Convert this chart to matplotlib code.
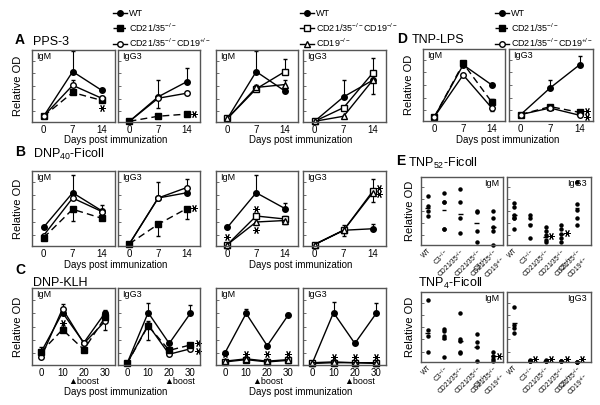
import numpy as np
import matplotlib
matplotlib.use('Agg')
import matplotlib.pyplot as plt
from matplotlib.lines import Line2D

plt.rcParams['font.family'] = ['Liberation Sans', 'DejaVu Sans']
plt.rcParams['mathtext.fontset'] = 'custom'
plt.rcParams['mathtext.rm'] = 'Liberation Sans'
plt.rcParams['mathtext.it'] = 'Liberation Sans:italic'
plt.rcParams['mathtext.default'] = 'regular'

# ---- data (relative OD, fraction of panel height) ----
days_short = [0, 7, 14]
days_long = [0, 10, 20, 30]

# A: PPS-3   (values, error: + upper bar, - lower bar)
pps3_igm_wt, pps3_igm_wt_err = [0.08, 0.70, 0.44], [0, 0.28, 0.02]
pps3_igm_ko, pps3_igm_ko_err = [0.08, 0.41, 0.30], [0, 0.03, 0.04]
pps3_igm_het, pps3_igm_het_err = [0.08, 0.51, 0.33], [0, 0.08, 0.03]
pps3_igg3_wt, pps3_igg3_wt_err = [0.01, 0.35, 0.56], [0, 0.24, 0.19]
pps3_igg3_het, pps3_igg3_het_err = [0.01, 0.33, 0.40], [0, -0.13, 0]
pps3_igg3_ko, pps3_igg3_ko_err = [0.01, 0.08, 0.11], [0, 0.01, 0.03]
pps3_igm2_wt, pps3_igm2_wt_err = [0.05, 0.70, 0.43], [0, 0.28, 0]
pps3_igm2_dko, pps3_igm2_dko_err = [0.05, 0.46, 0.70], [0, 0.05, 0.17]
pps3_igm2_cd19, pps3_igm2_cd19_err = [0.05, 0.48, 0.52], [0, 0.04, 0.07]
pps3_igg32_wt, pps3_igg32_wt_err = [0.01, 0.35, 0.58], [0, 0.24, 0]
pps3_igg32_dko, pps3_igg32_dko_err = [0.01, 0.20, 0.68], [0, 0, 0.21]
pps3_igg32_cd19, pps3_igg32_cd19_err = [0.01, 0.08, 0.58], [0, 0, -0.19]

# B: DNP40-Ficoll
dnp40_igm_wt, dnp40_igm_wt_err = [0.25, 0.71, 0.47], [0, 0.24, 0.08]
dnp40_igm_het, dnp40_igm_het_err = [0.14, 0.64, 0.46], [0, 0, 0]
dnp40_igm_ko, dnp40_igm_ko_err = [0.11, 0.49, 0.37], [0, -0.15, 0.02]
dnp40_igg3_wt, dnp40_igg3_wt_err = [0.03, 0.64, 0.71], [0, 0, 0]
dnp40_igg3_het, dnp40_igg3_het_err = [0.03, 0.64, 0.78], [0, 0.22, 0.12]
dnp40_igg3_ko, dnp40_igg3_ko_err = [0.03, 0.29, 0.50], [0, -0.15, -0.14]
dnp40_igm2_wt, dnp40_igm2_wt_err = [0.25, 0.71, 0.50], [0, 0.24, 0.08]
dnp40_igm2_dko, dnp40_igm2_dko_err = [0.02, 0.40, 0.36], [0, 0, 0.04]
dnp40_igm2_cd19, dnp40_igm2_cd19_err = [0.02, 0.32, 0.34], [0, 0, -0.04]
dnp40_igg32_wt, dnp40_igg32_wt_err = [0.02, 0.21, 0.23], [0, 0, 0.07]
dnp40_igg32_dko, dnp40_igg32_dko_err = [0.02, 0.21, 0.73], [0, 0.07, 0.17]
dnp40_igg32_cd19, dnp40_igg32_cd19_err = [0.02, 0.21, 0.71], [0, -0.08, -0.12]

# C: DNP-KLH
klh_igm_wt, klh_igm_wt_err = [0.17, 0.68, 0.29, 0.68], [0.06, 0, 0, 0.03]
klh_igm_het, klh_igm_het_err = [0.10, 0.73, 0.28, 0.57], [0, 0.06, 0, -0.12]
klh_igm_ko, klh_igm_ko_err = [0.17, 0.46, 0.20, 0.62], [0, 0.08, 0, 0]
klh_igg3_wt, klh_igg3_wt_err = [0.02, 0.68, 0.28, 0.67], [0, 0.13, 0, 0.11]
klh_igg3_het, klh_igg3_het_err = [0.02, 0.52, 0.14, 0.21], [0, 0.05, 0, 0.08]
klh_igg3_ko, klh_igg3_ko_err = [0.02, 0.51, 0.19, 0.26], [0, -0.18, 0, 0]
klh_igm2_wt, klh_igm2_wt_err = [0.16, 0.67, 0.25, 0.65], [0, 0.06, 0, 0.03]
klh_igm2_dko, klh_igm2_dko_err = [0.04, 0.07, 0.04, 0.06], [0, 0, 0, 0]
klh_igm2_cd19, klh_igm2_cd19_err = [0.05, 0.08, 0.05, 0.07], [0, 0, 0, 0]
klh_igg32_wt, klh_igg32_wt_err = [0.02, 0.68, 0.28, 0.67], [0, 0.14, 0, 0.13]
klh_igg32_dko, klh_igg32_dko_err = [0.02, 0.03, 0.03, 0.02], [0, 0, 0, 0]
klh_igg32_cd19, klh_igg32_cd19_err = [0.03, 0.04, 0.03, 0.03], [0, 0, 0, 0]

# D: TNP-LPS
lps_igm_wt, lps_igm_wt_err = [0.06, 0.78, 0.50], [0, 0, 0]
lps_igm_ko, lps_igm_ko_err = [0.06, 0.80, 0.26], [0, 0, 0.04]
lps_igm_het, lps_igm_het_err = [0.06, 0.64, 0.18], [0, 0, -0.04]
lps_igg3_wt, lps_igg3_wt_err = [0.09, 0.46, 0.78], [0, 0.11, 0.12]
lps_igg3_ko, lps_igg3_ko_err = [0.09, 0.20, 0.12], [0, 0, 0]
lps_igg3_het, lps_igg3_het_err = [0.09, 0.18, 0.08], [0, 0, 0]

# E: individual mice
e_cats = ['WT', 'C3$^{-/-}$', 'CD21/35$^{-/-}$', 'CD21/35$^{-/-}$\nC3$^{-/-}$',
          'CD21/35$^{-/-}$\nCD19$^{+/-}$']
tnp52_igm = [[0.72, 0.58, 0.50, 0.42], [0.76, 0.63, 0.63, 0.24, 0.24],
             [0.82, 0.63, 0.39, 0.18], [0.50, 0.49, 0.20, 0.05],
             [0.50, 0.40, 0.27, 0.20, 0.0]]
tnp52_igm_mean = [0.55, 0.51, 0.45, 0.33, 0.27]
tnp52_igg3 = [[0.62, 0.56, 0.44, 0.40, 0.39, 0.24], [0.44, 0.40, 0.29, 0.10],
              [0.27, 0.20, 0.15, 0.07, 0.05], [0.29, 0.23, 0.16, 0.10, 0.05],
              [0.93, 0.61, 0.52, 0.40, 0.29]]
tnp52_igg3_mean = [0.44, 0.31, 0.12, 0.16, 0.54]
tnp4_igm = [[0.89, 0.46, 0.37, 0.15], [0.47, 0.44, 0.37, 0.34, 0.07],
            [0.70, 0.33, 0.30, 0.14, 0.13], [0.40, 0.29, 0.21, 0.01],
            [0.14, 0.08, 0.05, 0.02]]
tnp4_igm_mean = [0.42, 0.33, 0.30, 0.21, 0.08]
tnp4_igg3 = [[0.79, 0.53, 0.48, 0.41], [0.03, 0.02, 0.01, 0.01],
             [0.03, 0.02, 0.01, 0.01], [0.02, 0.01, 0.01],
             [0.005, 0.005, 0.005]]
tnp4_igg3_mean = [0.56, 0.015, 0.015, 0.01, 0.005]

LABELS = {
    'wt': 'WT',
    'ko': 'CD21/35$^{-/-}$',
    'het': 'CD21/35$^{-/-}$CD19$^{+/-}$',
    'dko': 'CD21/35$^{-/-}$CD19$^{-/-}$',
    'cd19': 'CD19$^{-/-}$',
}
STYLE = {
    'wt': dict(marker='o', mfc='black', ls='-'),
    'ko': dict(marker='s', mfc='black', ls='--'),
    'het': dict(marker='o', mfc='white', ls='-'),
    'dko': dict(marker='s', mfc='white', ls='-'),
    'cd19': dict(marker='^', mfc='white', ls='-'),
}

W, H = 600, 405
fig = plt.figure(figsize=(6, 4.05), dpi=100)
SPINE = '#555555'


def box(x0, y0, x1, y1):
    return fig.add_axes([x0 / W, 1 - y1 / H, (x1 - x0) / W, (y1 - y0) / H])


def style_axes(ax):
    for s in ax.spines.values():
        s.set_color(SPINE)
        s.set_linewidth(1.0)
    ax.set_ylim(0, 1)
    ax.set_yticks(np.linspace(0.15, 0.85, 5))
    ax.set_yticklabels([])
    ax.tick_params(axis='y', direction='in', length=2.5, width=0.6, color=SPINE)
    ax.tick_params(axis='x', length=0, labelsize=7, pad=2)


def star(ax, x, y):
    ax.plot(x, y, marker=(6, 2, 90), ms=5, mew=0.7, color='black',
            ls='none', clip_on=False)


def line_panel(rect, days, series, label, xlim, ylabel=False):
    ax = box(*rect)
    for key, vals, err in series:
        st = STYLE[key]
        lo = [max(-e, 0) for e in err]
        hi = [max(e, 0) for e in err]
        ax.errorbar(days, vals, yerr=[lo, hi], color='black', lw=1,
                    ls=st['ls'], marker=st['marker'], mfc=st['mfc'],
                    mec='black', ms=4, capsize=1.5, elinewidth=0.8,
                    clip_on=False)
    for ln in ax.get_lines():
        if ln.get_linestyle() == '--':
            ln.set_dashes((5, 3))
    ax.set_xlim(*xlim)
    ax.set_xticks(days)
    style_axes(ax)
    ax.text(0.05, 0.97, label, transform=ax.transAxes, va='top', fontsize=6.5)
    if ylabel:
        ax.set_ylabel('Relative OD', fontsize=8, labelpad=3)
    return ax


def dot_panel(rect, groups, means, label, xlim, ylabel=False):
    ax = box(*rect)
    for i, vals in enumerate(groups):
        ax.plot([i] * len(vals), vals, 'o', ms=2.2, color='black', clip_on=False)
    xs = np.arange(len(means))
    ax.hlines(means, xs - 0.15, xs + 0.15, color='black', lw=1)
    ax.set_xlim(*xlim)
    style_axes(ax)
    ax.set_xticks(xs)
    ax.set_xticklabels(e_cats, rotation=45, ha='right', rotation_mode='anchor',
                       fontsize=4.8, linespacing=0.85)
    ax.tick_params(axis='x', pad=1.5)
    ax.text(0.95, 0.97, label, transform=ax.transAxes, va='top', ha='right',
            fontsize=6.5)
    if ylabel:
        ax.set_ylabel('Relative OD', fontsize=8, labelpad=1)
    return ax


XS = (-2.8, 17.2)
XL = (-4.3, 34.6)
cols = [(32, 115), (118, 200), (216, 298), (303, 386)]

# ---- row A ----
ya = (50, 122)
ax = line_panel((cols[0][0], ya[0], cols[0][1], ya[1]), days_short,
                [('wt', pps3_igm_wt, pps3_igm_wt_err),
                 ('ko', pps3_igm_ko, pps3_igm_ko_err),
                 ('het', pps3_igm_het, pps3_igm_het_err)], 'IgM', XS, True)
star(ax, 14, 0.19)
ax = line_panel((cols[1][0], ya[0], cols[1][1], ya[1]), days_short,
                [('wt', pps3_igg3_wt, pps3_igg3_wt_err),
                 ('het', pps3_igg3_het, pps3_igg3_het_err),
                 ('ko', pps3_igg3_ko, pps3_igg3_ko_err)], 'IgG3', XS)
star(ax, 15.7, 0.11)
line_panel((cols[2][0], ya[0], cols[2][1], ya[1]), days_short,
           [('wt', pps3_igm2_wt, pps3_igm2_wt_err),
            ('dko', pps3_igm2_dko, pps3_igm2_dko_err),
            ('cd19', pps3_igm2_cd19, pps3_igm2_cd19_err)], 'IgM', XS)
line_panel((cols[3][0], ya[0], cols[3][1], ya[1]), days_short,
           [('wt', pps3_igg32_wt, pps3_igg32_wt_err),
            ('dko', pps3_igg32_dko, pps3_igg32_dko_err),
            ('cd19', pps3_igg32_cd19, pps3_igg32_cd19_err)], 'IgG3', XS)

# ---- row B ----
yb = (171, 246)
line_panel((cols[0][0], yb[0], cols[0][1], yb[1]), days_short,
           [('wt', dnp40_igm_wt, dnp40_igm_wt_err),
            ('het', dnp40_igm_het, dnp40_igm_het_err),
            ('ko', dnp40_igm_ko, dnp40_igm_ko_err)], 'IgM', XS, True)
ax = line_panel((cols[1][0], yb[0], cols[1][1], yb[1]), days_short,
                [('wt', dnp40_igg3_wt, dnp40_igg3_wt_err),
                 ('het', dnp40_igg3_het, dnp40_igg3_het_err),
                 ('ko', dnp40_igg3_ko, dnp40_igg3_ko_err)], 'IgG3', XS)
star(ax, 15.7, 0.51)
ax = line_panel((cols[2][0], yb[0], cols[2][1], yb[1]), days_short,
                [('wt', dnp40_igm2_wt, dnp40_igm2_wt_err),
                 ('dko', dnp40_igm2_dko, dnp40_igm2_dko_err),
                 ('cd19', dnp40_igm2_cd19, dnp40_igm2_cd19_err)], 'IgM', XS)
star(ax, 0, 0.12)
star(ax, 7, 0.49)
star(ax, 7, 0.22)
ax = line_panel((cols[3][0], yb[0], cols[3][1], yb[1]), days_short,
                [('wt', dnp40_igg32_wt, dnp40_igg32_wt_err),
                 ('dko', dnp40_igg32_dko, dnp40_igg32_dko_err),
                 ('cd19', dnp40_igg32_cd19, dnp40_igg32_cd19_err)], 'IgG3', XS)
star(ax, 15.6, 0.78)
star(ax, 15.6, 0.70)

# ---- row C ----
yc = (288, 365)
ax = line_panel((cols[0][0], yc[0], cols[0][1], yc[1]), days_long,
                [('wt', klh_igm_wt, klh_igm_wt_err),
                 ('het', klh_igm_het, klh_igm_het_err),
                 ('ko', klh_igm_ko, klh_igm_ko_err)], 'IgM', XL, True)
star(ax, 10, 0.55)
ax = line_panel((cols[1][0], yc[0], cols[1][1], yc[1]), days_long,
                [('wt', klh_igg3_wt, klh_igg3_wt_err),
                 ('het', klh_igg3_het, klh_igg3_het_err),
                 ('ko', klh_igg3_ko, klh_igg3_ko_err)], 'IgG3', XL)
star(ax, 33.5, 0.28)
star(ax, 33.5, 0.18)
ax = line_panel((cols[2][0], yc[0], cols[2][1], yc[1]), days_long,
                [('wt', klh_igm2_wt, klh_igm2_wt_err),
                 ('dko', klh_igm2_dko, klh_igm2_dko_err),
                 ('cd19', klh_igm2_cd19, klh_igm2_cd19_err)], 'IgM', XL)
for d in days_long:
    star(ax, d, 0.14)
ax = line_panel((cols[3][0], yc[0], cols[3][1], yc[1]), days_long,
                [('wt', klh_igg32_wt, klh_igg32_wt_err),
                 ('dko', klh_igg32_dko, klh_igg32_dko_err),
                 ('cd19', klh_igg32_cd19, klh_igg32_cd19_err)], 'IgG3', XL)
for d in days_long[1:]:
    star(ax, d, 0.10)

# ---- D ----
yd = (49, 121)
line_panel((423, yd[0], 505, yd[1]), days_short,
           [('wt', lps_igm_wt, lps_igm_wt_err),
            ('ko', lps_igm_ko, lps_igm_ko_err),
            ('het', lps_igm_het, lps_igm_het_err)], 'IgM', XS, True)
ax = line_panel((509, yd[0], 593, yd[1]), days_short,
                [('wt', lps_igg3_wt, lps_igg3_wt_err),
                 ('ko', lps_igg3_ko, lps_igg3_ko_err),
                 ('het', lps_igg3_het, lps_igg3_het_err)], 'IgG3', XS)
star(ax, 15.8, 0.14)
star(ax, 15.8, 0.06)

# ---- E ----
ax = dot_panel((421, 177, 503, 245), tnp52_igm, tnp52_igm_mean, 'IgM',
               (-0.4, 4.6), True)
ax = dot_panel((507, 177, 591, 245), tnp52_igg3, tnp52_igg3_mean, 'IgG3',
               (-0.46, 4.9))
star(ax, 2.35, 0.13)
star(ax, 3.35, 0.17)
ax = dot_panel((421, 292, 503, 362), tnp4_igm, tnp4_igm_mean, 'IgM',
               (-0.4, 4.6), True)
star(ax, 4.35, 0.08)
ax = dot_panel((507, 292, 591, 362), tnp4_igg3, tnp4_igg3_mean, 'IgG3',
               (-0.46, 4.9))
for i in range(1, 5):
    star(ax, i + 0.35, 0.04)

# ---- texts ----
def ftext(x, y, s, **kw):
    fig.text(x / W, 1 - y / H, s, va='center', **kw)

ftext(15, 40, 'A', fontsize=10, fontweight='bold')
ftext(33, 42, 'PPS-3', fontsize=9)
ftext(15, 152, 'B', fontsize=10, fontweight='bold')
ftext(33, 154, 'DNP$_{40}$-Ficoll', fontsize=9)
ftext(15, 270, 'C', fontsize=10, fontweight='bold')
ftext(33, 283, 'DNP-KLH', fontsize=9)
ftext(397, 39, 'D', fontsize=10, fontweight='bold')
ftext(412, 40, 'TNP-LPS', fontsize=9)
ftext(396, 161, 'E', fontsize=10, fontweight='bold')
ftext(408, 163, 'TNP$_{52}$-Ficoll', fontsize=9)
ftext(418, 283, 'TNP$_{4}$-Ficoll', fontsize=9)

for cx in (116, 301, 508):
    ftext(cx, 140, 'Days post immunization', fontsize=7, ha='center')
for cx in (116, 301):
    ftext(cx, 265, 'Days post immunization', fontsize=7, ha='center')
    ftext(cx, 392, 'Days post immunization', fontsize=7, ha='center')
for bx in (84, 180, 268, 360):
    ftext(bx, 382, '\u25b2boost', fontsize=6.5, ha='center')


def legend(keys, x, y):
    handles = [Line2D([], [], color='black', lw=1, ls=STYLE[k]['ls'],
                      marker=STYLE[k]['marker'], mfc=STYLE[k]['mfc'],
                      mec='black', ms=4) for k in keys]
    fig.legend(handles, [LABELS[k] for k in keys], loc='upper left',
               bbox_to_anchor=(x / W, 1 - y / H), frameon=False, fontsize=6.5,
               handlelength=1.5, handletextpad=0.3, labelspacing=0.35,
               borderpad=0, borderaxespad=0)


legend(['wt', 'ko', 'het'], 113, 9)
legend(['wt', 'dko', 'cd19'], 300, 9)
legend(['wt', 'ko', 'het'], 495, 9)

fig.savefig('out.png', dpi=100, facecolor='white')
